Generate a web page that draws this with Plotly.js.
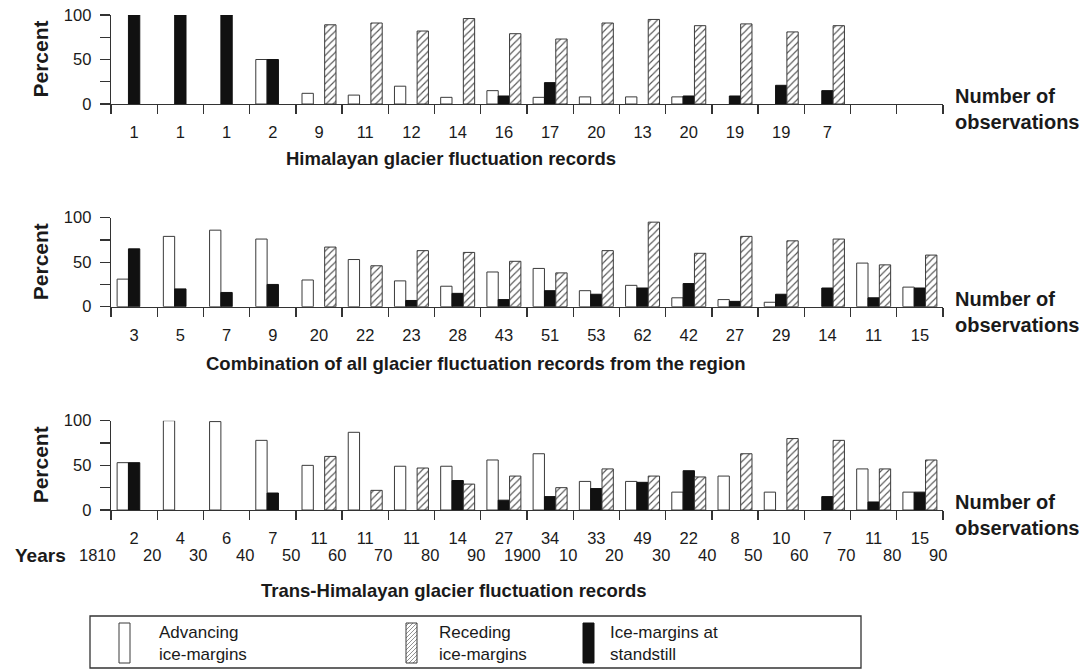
<!DOCTYPE html>
<html>
<head>
<meta charset="utf-8">
<script src="https://cdn.plot.ly/plotly-3.0.1.min.js"></script>
<style>
html,body{margin:0;padding:0;background:#fff;}
#chart{width:1092px;height:671px;}
</style>
</head>
<body>
<div id="chart"></div>
<script>
// ---- data ----
const decades = [1810,1820,1830,1840,1850,1860,1870,1880,1890,1900,1910,1920,1930,1940,1950,1960,1970,1980];
const yearLabels = ['1810','20','30','40','50','60','70','80','90','1900','10','20','30','40','50','60','70','80','90'];

const himAdvancing = [null,null,null,50,12,10,20,7.5,15,7.5,8,8,8,null,null,null,null,null];
const himStandstill = [100,100,100,50,null,null,null,null,9,24,null,null,9,9,21,15,null,null];
const himReceding = [null,null,null,null,89,91,82,96,79,73,91,95,88,90,81,88,null,null];
const himObs = ['1','1','1','2','9','11','12','14','16','17','20','13','20','19','19','7','',''];

const allAdvancing = [31,79,86,76,30,53,29,23,39,43,18,24,10,8,5,null,49,22];
const allStandstill = [65,20,16,25,null,null,7,15,8,18,14,21,26,6,14,21,10,21];
const allReceding = [null,null,null,null,67,46,63,61,51,38,63,95,60,79,74,76,47,58];
const allObs = ['3','5','7','9','20','22','23','28','43','51','53','62','42','27','29','14','11','15'];

const transAdvancing = [53,100,99,78,50,87,49,49,56,63,32,32,20,38,20,null,46,20];
const transStandstill = [53,null,null,19,null,null,null,33,11,15,24,31,44,null,null,15,9,20];
const transReceding = [null,null,null,null,60,22,47,29,38,25,46,38,37,63,80,78,46,56];
const transObs = ['2','4','6','7','11','11','11','14','27','34','33','49','22','8','10','7','11','15'];

const panelTitles = ['Himalayan glacier fluctuation records',
  'Combination of all glacier fluctuation records from the region',
  'Trans-Himalayan glacier fluctuation records'];
const seriesNames = ['Advancing ice-margins','Ice-margins at standstill','Receding ice-margins'];

// ---- layout helpers ----
const W = 1092, H = 671, L = 111, R = 943;
const px = v => (v - L) / (R - L);
const py = v => 1 - v / H;
const FONT = '"Liberation Sans", Arial, Helvetica, sans-serif';
const TXT = '#1a1a1a';
const AX = '#333';

const centers = decades.map(d => d + 5);

const panels = [
  {adv: himAdvancing, sta: himStandstill, rec: himReceding, obs: himObs, top: 15, bot: 104, title: panelTitles[0], tx: 451, ty: 158},
  {adv: allAdvancing, sta: allStandstill, rec: allReceding, obs: allObs, top: 217.7, bot: 306.7, title: panelTitles[1], tx: 476, ty: 363},
  {adv: transAdvancing, sta: transStandstill, rec: transReceding, obs: transObs, top: 420.7, bot: 510, title: panelTitles[2], tx: 454, ty: 590}
];

const traces = [];
const layout = {
  width: W, height: H,
  margin: {l: L, r: W - R, t: 0, b: 0, pad: 0},
  paper_bgcolor: '#fff', plot_bgcolor: '#fff',
  showlegend: false,
  barmode: 'group', bargap: 0.265, bargroupgap: 0,
  font: {family: FONT, color: TXT, size: 16},
  annotations: [], shapes: []
};

panels.forEach((p, i) => {
  const n = i === 0 ? '' : String(i + 1);
  const xa = 'x' + n, ya = 'y' + n;
  traces.push({
    type: 'bar', name: seriesNames[0], x: centers, y: p.adv, xaxis: xa, yaxis: ya,
    marker: {color: '#ffffff', line: {color: '#3a3a3a', width: 1}}, hoverinfo: 'skip'
  });
  traces.push({
    type: 'bar', name: seriesNames[1], x: centers, y: p.sta, xaxis: xa, yaxis: ya,
    marker: {color: '#111111', line: {color: '#111111', width: 1}}, hoverinfo: 'skip'
  });
  traces.push({
    type: 'bar', name: seriesNames[2], x: centers, y: p.rec, xaxis: xa, yaxis: ya,
    marker: {color: '#ffffff', line: {color: '#3a3a3a', width: 1},
      pattern: {shape: '/', fgcolor: '#555555', bgcolor: '#ffffff', size: 5, solidity: 0.22, fillmode: 'replace'}},
    hoverinfo: 'skip'
  });
  layout['xaxis' + n] = {
    domain: [0, 1], anchor: ya, range: [1810, 1990],
    showgrid: false, zeroline: false, showline: true, linecolor: AX, linewidth: 1.3,
    tickmode: 'array', tickvals: centers, ticktext: p.obs,
    ticks: 'outside', ticklen: 13, tickcolor: 'rgba(0,0,0,0)',
    tickfont: {family: FONT, size: 16.5, color: TXT},
    minor: {tickmode: 'array', tickvals: yearLabels.map((_, k) => 1810 + 10 * k), ticks: 'outside', ticklen: 9, tickcolor: AX, tickwidth: 1.3, showgrid: false},
    fixedrange: true
  };
  layout['yaxis' + n] = {
    domain: [py(p.bot), py(p.top)], anchor: xa, range: [0, 100],
    showgrid: false, zeroline: false, showline: true, linecolor: AX, linewidth: 1.3,
    tickmode: 'array', tickvals: [0, 25, 50, 75, 100], ticktext: ['0', '', '50', '', '100'],
    ticks: 'outside', ticklen: 10, tickcolor: AX, tickwidth: 1.3, ticklabelstandoff: 5,
    tickfont: {family: FONT, size: 16.5, color: TXT}, fixedrange: true
  };
  // Percent label
  layout.annotations.push({
    xref: 'paper', yref: 'paper', x: px(40), y: py((p.top + p.bot) / 2), text: '<b>Percent</b>',
    textangle: -90, showarrow: false, xanchor: 'center', yanchor: 'middle',
    font: {family: FONT, size: 21, color: TXT}
  });
  // Number of observations
  layout.annotations.push({
    xref: 'paper', yref: 'paper', x: px(953), y: py(p.bot + 5), text: '<b>Number of<br>observations</b>',
    showarrow: false, xanchor: 'left', yanchor: 'middle', align: 'left', font: {family: FONT, size: 20, color: TXT}
  });
  // panel title
  layout.annotations.push({
    xref: 'paper', yref: 'paper', x: px(p.tx), y: py(p.ty), text: '<b>' + p.title + '</b>',
    showarrow: false, xanchor: 'center', yanchor: 'middle', font: {family: FONT, size: 18.5, color: TXT}
  });
});

// years row under bottom panel
yearLabels.forEach((lab, k) => {
  layout.annotations.push({
    xref: 'x3', yref: 'paper', x: 1810 + 10 * k, y: py(555), text: lab, xshift: k === 0 ? -14 : -5,
    showarrow: false, xanchor: 'center', yanchor: 'middle', font: {family: FONT, size: 16.5, color: TXT}
  });
});
layout.annotations.push({
  xref: 'paper', yref: 'paper', x: px(13), y: py(555), text: '<b>Years</b>',
  showarrow: false, xanchor: 'left', yanchor: 'middle', font: {family: FONT, size: 19, color: TXT}
});

// ---- custom legend ----
layout.shapes.push({type: 'rect', xref: 'paper', yref: 'paper', x0: px(90), x1: px(861), y0: py(616), y1: py(668),
  line: {color: AX, width: 1.3}, fillcolor: 'rgba(0,0,0,0)'});
const sym = [{x: 119, fill: '#ffffff', hatch: false}, {x: 406, fill: '#ffffff', hatch: true}, {x: 583, fill: '#111111', hatch: false}];
sym.forEach(s => {
  const x0 = s.x, x1 = s.x + 11, y0 = 623, y1 = 663;
  if (s.hatch) {
    let d = '';
    for (let c = x0 + y0 + 3; c < x1 + y1; c += 4) {
      let xa = Math.max(x0, c - y1), xb = Math.min(x1, c - y0);
      if (xb <= xa) continue;
      d += 'M' + px(xa) + ',' + py(c - xa) + 'L' + px(xb) + ',' + py(c - xb);
    }
    layout.shapes.push({type: 'path', xref: 'paper', yref: 'paper', path: d, line: {color: '#777', width: 0.8}});
  }
  layout.shapes.push({type: 'rect', xref: 'paper', yref: 'paper', x0: px(x0), x1: px(x1), y0: py(y1), y1: py(y0),
    line: {color: s.fill === '#111111' ? '#111' : '#3a3a3a', width: 1}, fillcolor: s.hatch ? 'rgba(0,0,0,0)' : s.fill});
});
const legTexts = [{x: 157, a: 'Advancing', b: 'ice-margins'}, {x: 437, a: 'Receding', b: 'ice-margins'}, {x: 608, a: 'Ice-margins at', b: 'standstill'}];
legTexts.forEach(t => {
  layout.annotations.push({xref: 'paper', yref: 'paper', x: px(t.x), y: py(643), text: t.a + '<br>' + t.b, showarrow: false,
    xanchor: 'left', yanchor: 'middle', align: 'left', font: {family: FONT, size: 17, color: TXT}});
});

Plotly.newPlot('chart', traces, layout, {staticPlot: true, displayModeBar: false});
</script>
</body>
</html>
